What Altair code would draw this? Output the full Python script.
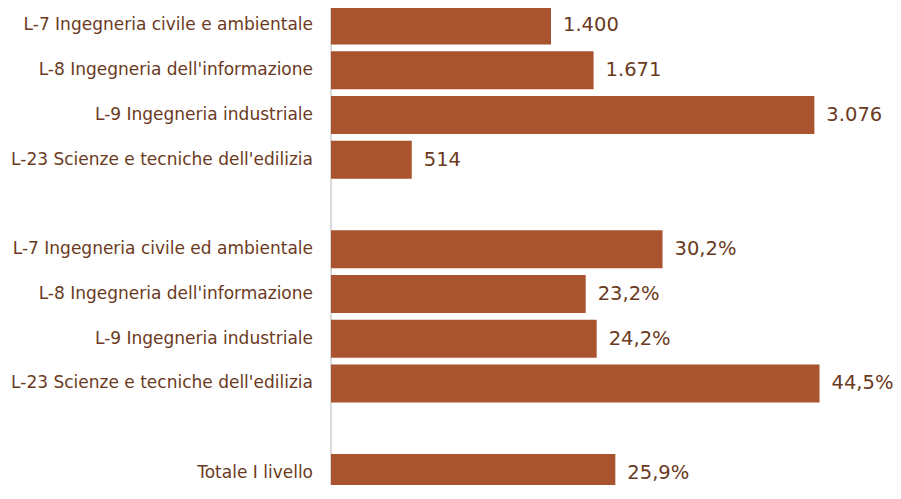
import altair as alt
import pandas as pd

# ---- data ----
count_labels = [
    "L-7 Ingegneria civile e ambientale",
    "L-8 Ingegneria dell'informazione",
    "L-9 Ingegneria industriale",
    "L-23 Scienze e tecniche dell'edilizia",
]
count_values = [1400, 1671, 3076, 514]

pct_labels = [
    "L-7 Ingegneria civile ed ambientale",
    "L-8 Ingegneria dell'informazione",
    "L-9 Ingegneria industriale",
    "L-23 Scienze e tecniche dell'edilizia",
    "Totale I livello",
]
pct_values = [30.2, 23.2, 24.2, 44.5, 25.9]

# row order (empty rows 4 and 9 separate the groups)
count_rows = [0, 1, 2, 3]
pct_rows = [5, 6, 7, 8, 10]

BAR = "#A9532F"
TXT = "#6B3A22"
FONT = "DejaVu Sans"
W, H = 550, 477

df_c = pd.DataFrame({"row": count_rows, "label": count_labels, "value": count_values})
df_c["txt"] = [f"{v:,}".replace(",", ".") for v in count_values]
df_p = pd.DataFrame({"row": pct_rows, "label": pct_labels, "value": pct_values})
df_p["txt"] = [f"{v:.1f}".replace(".", ",") + "%" for v in pct_values]
df_all = pd.concat([df_c[["row", "label"]], df_p[["row", "label"]]])

yscale = alt.Scale(domain=[-0.39106, 10.2682], reverse=True, nice=False, zero=False, padding=0)
Y = alt.Y("row:Q", scale=yscale, axis=None)

xc = alt.X("value:Q", scale=alt.Scale(domain=[0, 3500], nice=False, padding=0), axis=None)
xp = alt.X("value:Q", scale=alt.Scale(domain=[0, 50.1], nice=False, padding=0), axis=None)

bars_c = alt.Chart(df_c).mark_bar(orient="horizontal", height=38, color=BAR).encode(x=xc, y=Y)
text_c = alt.Chart(df_c).mark_text(align="left", baseline="middle", dx=12, font=FONT,
                                   fontSize=19.5, color=TXT).encode(x=xc, y=Y, text="txt:N")
bars_p = alt.Chart(df_p).mark_bar(orient="horizontal", height=38, color=BAR).encode(x=xp, y=Y)
text_p = alt.Chart(df_p).mark_text(align="left", baseline="middle", dx=12, font=FONT,
                                   fontSize=19.5, color=TXT).encode(x=xp, y=Y, text="txt:N")

labels = alt.Chart(df_all).mark_text(align="right", baseline="middle", font=FONT,
                                      fontSize=17, color=TXT).encode(
    x=alt.value(-18), y=Y, text="label:N")

axis_line = alt.Chart(df_all).mark_rule(color="#D9D9D9", strokeWidth=1).encode(
    x=alt.value(0), y=alt.value(0), y2=alt.value(H))

chart = alt.layer(axis_line, bars_c, text_c, bars_p, text_p, labels).resolve_scale(
    x="independent"
).properties(
    width=W, height=H, autosize="none",
    padding={"left": 323, "top": 0, "right": 12, "bottom": 0},
).configure_view(stroke=None)

chart.save("out.html", embed_options={"renderer": "svg", "actions": False})
